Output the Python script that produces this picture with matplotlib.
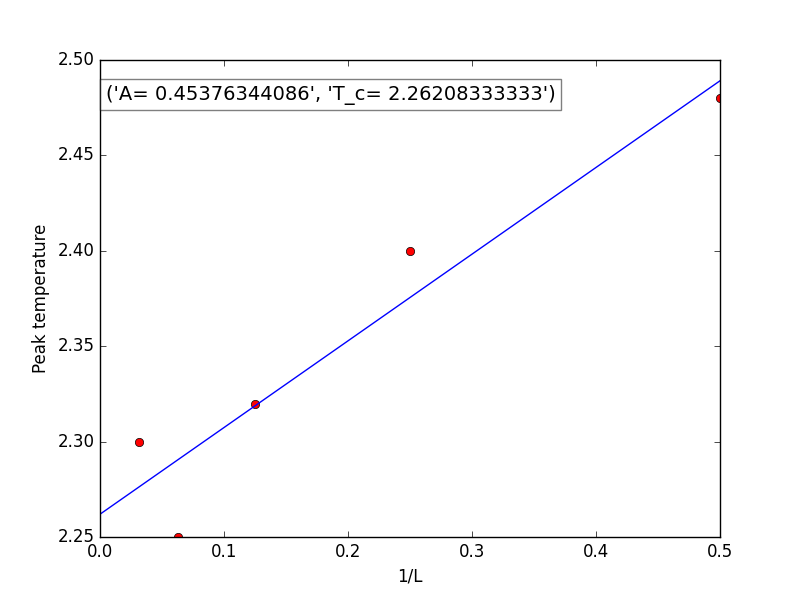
import numpy as np
import matplotlib
matplotlib.use('Agg')
import matplotlib.pyplot as plt

plt.style.use('classic')

L = [32, 16, 8, 4, 2]
peak_T = [2.30, 2.25, 2.32, 2.40, 2.48]

inv_L = 1.0 / np.array(L, dtype=float)
A, T_c = np.polyfit(inv_L, peak_T, 1)
x_fit = np.linspace(0, 0.5, 100)

fig = plt.figure(figsize=(8, 5.97), dpi=100)
ax = fig.add_subplot(111)
ax.plot(inv_L, peak_T, 'ro')
ax.plot(x_fit, T_c + A * x_fit, 'b-')
ax.set_xlim(0, 0.5)
ax.set_ylim(2.25, 2.50)
ax.set_xlabel('1/L')
ax.set_ylabel('Peak temperature')
label = "('A= %.12g', 'T_c= %.12g')" % (A, T_c)
ax.text(0.0048, 2.479, label, fontsize=14,
        bbox=dict(facecolor='white', edgecolor='black', alpha=0.5))
fig.savefig('out.png', dpi=100)
